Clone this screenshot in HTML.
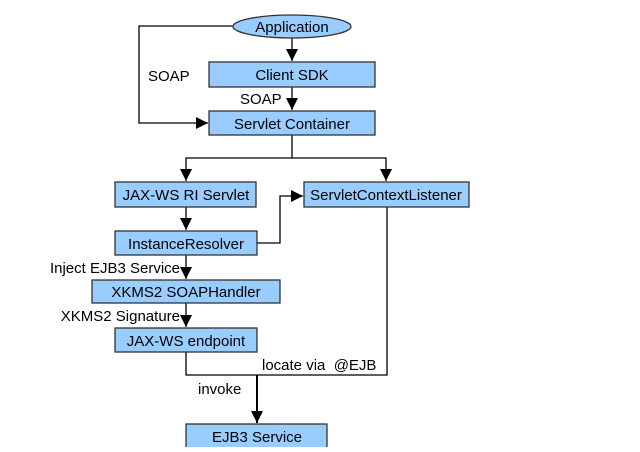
<!DOCTYPE html>
<html><head><style>body{margin:0;background:#fff}</style></head><body>
<svg width="640" height="447" xmlns="http://www.w3.org/2000/svg" font-family="Liberation Sans, sans-serif" font-size="15">
<defs><marker id="a" markerWidth="12" markerHeight="12" refX="12" refY="6" orient="auto" markerUnits="userSpaceOnUse"><path d="M0,0 L12,6 L0,12z" fill="#000"/></marker></defs>
<g stroke="#000" stroke-width="1.3" fill="none">
<line x1="292" y1="38" x2="292" y2="61" marker-end="url(#a)"/>
<polyline points="233,26 139,26 139,123 208,123" marker-end="url(#a)"/>
<line x1="292" y1="87" x2="292" y2="110" marker-end="url(#a)"/>
<polyline points="292,135 292,158 186,158 186,181" marker-end="url(#a)"/>
<polyline points="292,158 386,158 386,181" marker-end="url(#a)"/>
<line x1="186" y1="207" x2="186" y2="230" marker-end="url(#a)"/>
<polyline points="257,243 280,243 280,196 303,196" marker-end="url(#a)"/>
<line x1="186" y1="255" x2="186" y2="279" marker-end="url(#a)"/>
<line x1="186" y1="303" x2="186" y2="327" marker-end="url(#a)"/>
<polyline points="186,352 186,375 387,375 387,207"/>
<line x1="257" y1="375" x2="257" y2="423" stroke-width="2" marker-end="url(#a)"/>
</g>
<g fill="#99ccff" stroke="#333" stroke-width="1.3">
<ellipse cx="292" cy="26.5" rx="59" ry="11.5"/>
<rect x="209" y="62" width="166" height="25"/>
<rect x="209" y="111" width="166" height="24"/>
<rect x="115" y="182" width="141" height="25"/>
<rect x="304" y="182" width="165" height="25"/>
<rect x="115" y="231" width="142" height="24"/>
<rect x="92" y="280" width="188" height="23"/>
<rect x="115" y="328" width="142" height="24"/>
<rect x="186" y="424" width="141" height="30"/>
</g>
<g text-anchor="middle" fill="#000">
<text x="292" y="32">Application</text>
<text x="292" y="80">Client SDK</text>
<text x="292" y="129">Servlet Container</text>
<text x="186" y="200">JAX-WS RI Servlet</text>
<text x="386" y="200">ServletContextListener</text>
<text x="186" y="249">InstanceResolver</text>
<text x="186" y="297">XKMS2 SOAPHandler</text>
<text x="186" y="346">JAX-WS endpoint</text>
<text x="257" y="442">EJB3 Service</text>
</g>
<g fill="#000">
<text x="148" y="81">SOAP</text>
<text x="240" y="104">SOAP</text>
<text x="180" y="273" text-anchor="end">Inject EJB3 Service</text>
<text x="180" y="321" text-anchor="end">XKMS2 Signature</text>
<text x="262" y="370" xml:space="preserve">locate via  @EJB</text>
<text x="198" y="394">invoke</text>
</g>
</svg>
</body></html>
